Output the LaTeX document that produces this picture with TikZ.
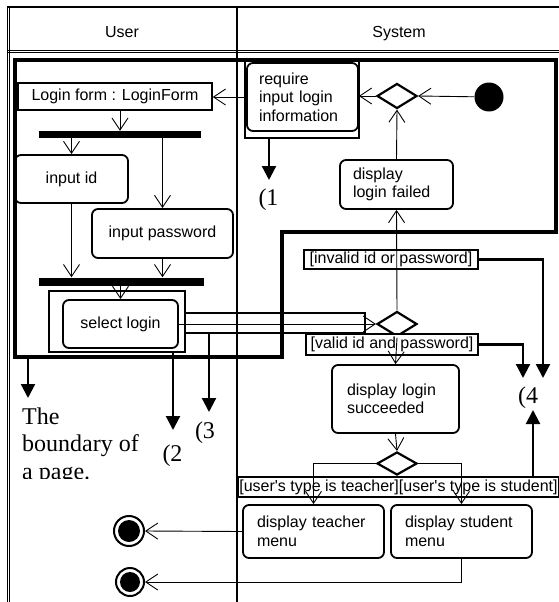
\documentclass[tikz,border=0pt]{standalone}
\usepackage{fontspec}
\setmainfont{Liberation Sans}
\newfontfamily\seriffont{Liberation Serif}
\usetikzlibrary{arrows.meta,shapes.geometric}
\newcommand\ntext{\fontsize{16}{18.5}\selectfont}
\newcommand\bigserif{\seriffont\fontsize{24}{27.5}\selectfont}
\begin{document}
\begin{tikzpicture}[x=1pt,y=-1pt,
  act/.style={draw, rounded corners=6pt, line width=1.8pt, fill=white, font=\ntext, inner ysep=2pt},
  plainbox/.style={draw, line width=1.5pt, fill=white, font=\ntext, inner sep=1pt},
  bar/.style={fill=black, inner sep=0pt},
  sel/.style={draw, line width=1.8pt, inner sep=0pt},
  guard/.style={draw, line width=1.8pt, fill=white, inner xsep=1pt, inner ysep=0pt, font=\ntext},
  decision/.style={diamond, draw, line width=2.2pt, minimum width=40pt, minimum height=25pt, inner sep=0pt, fill=white},
  initst/.style={circle, fill=black, minimum size=29pt, inner sep=0pt},
  finalout/.style={circle, draw, line width=2pt, fill=white, inner sep=0pt},
  finalin/.style={circle, fill=black, inner sep=0pt},
  arr/.style={line width=0.9pt, -{Straight Barb[length=12pt,width=16pt]}},
  bigarr/.style={line width=2.2pt, -{Triangle[length=14pt,width=14pt]}},
  note/.style={font=\bigserif, inner sep=0pt}]
\useasboundingbox (0,0) rectangle (559,602);
\fill[white] (0,0) rectangle (559,602);
% swimlanes
\draw[line width=1.2pt] (7,7) -- (559,7);
\draw[line width=1pt] (7,7) -- (7,602);
\draw[line width=0.8pt] (9.8,7) -- (9.8,602);
\draw[line width=0.8pt] (7,50.5) -- (559,50.5);
\draw[line width=1pt] (7,53) -- (559,53);
\draw[line width=2pt] (237,7) -- (237,602);
\node[font=\ntext, anchor=base] (tuser) at (122,37.5) {User};
\node[font=\ntext, anchor=base] (tsys) at (399,37.5) {System};
% nodes
\node[plainbox, minimum width=194pt, minimum height=27pt] (loginform) at (115,96.5) {Login form : LoginForm};
\node[bar, minimum width=162pt, minimum height=7pt] (bar1) at (120,134.5) {};
\node[act, minimum width=113pt, minimum height=48pt] (inputid) at (71.5,179) {input id};
\node[act, minimum width=141pt, minimum height=49pt] (inputpw) at (162.5,233.5) {input password};
\node[bar, minimum width=165pt, minimum height=8pt] (bar2) at (121.5,281.5) {};
\node[sel, minimum width=136pt, minimum height=61pt] (selsel) at (117,321.5) {};
\node[act, minimum width=115pt, minimum height=48pt] (sellogin) at (120.5,324) {select login};
\node[sel, minimum width=180pt, minimum height=20pt] (trsel) at (275,323) {};
\node[sel, minimum width=114pt, minimum height=78pt] (reqsel) at (302,99) {};
\node[act, align=left, text width=87pt, inner xsep=12pt, minimum height=68pt] (req) at (302.5,97) {require\\input login\\information};
\node[decision] (dec1) at (397,96) {};
\node[initst] (init) at (489,97) {};
\node[act, align=left, text width=87pt, inner xsep=13pt, minimum height=49pt] (failed) at (396.5,184.5) {display\\login failed};
\node[guard, minimum width=174pt, minimum height=19pt] (guard1) at (391,259.5) {[invalid id or password]};
\node[decision] (dec2) at (397,324) {};
\node[guard, minimum width=172pt, minimum height=21pt] (guard2) at (392,344.5) {[valid id and password]};
\node[act, align=left, text width=97pt, inner xsep=15pt, minimum height=68pt] (succ) at (395.5,399) {display login\\succeeded};
\node[decision, minimum height=23pt] (dec3) at (397,463.5) {};
\node[guard, minimum width=317pt, minimum height=20pt] (guard3) at (398.5,487) {[user\textquotesingle s type is teacher][user\textquotesingle s type is student]};
\node[act, align=left, text width=113pt, inner xsep=14pt, minimum height=53pt] (teacher) at (313.5,531.5) {display teacher\\menu};
\node[act, align=left, text width=113pt, inner xsep=14pt, minimum height=53pt] (student) at (461.5,531.5) {display student\\menu};
\node[finalout, minimum size=30pt] (fin1) at (129,531) {};
\node[finalin, minimum size=22pt] (fin1in) at (fin1) {};
\node[finalout, minimum size=28pt] (fin2) at (130,582) {};
\node[finalin, minimum size=20pt] (fin2in) at (fin2) {};
% page boundary
\draw[line width=4pt, line join=miter] (15,60) -- (555.5,60) -- (555.5,232) -- (282,232) -- (282,357) -- (15,357) -- cycle;
% connectors
\draw[arr] (init) -- (dec1.east);
\draw[arr] (dec1.west) -- (dec1.west -| req.east);
\draw[arr] (req.west) -- (req.west -| loginform.east);
\draw[arr] (loginform.south -| bar1.north) -- (bar1.north);
\draw[arr] (inputid.north |- bar1.south) -- (inputid.north);
\draw[arr] (inputpw.north |- bar1.south) -- (inputpw.north);
\draw[arr] (inputid.south) -- (inputid.south |- bar2.north);
\draw[arr] (inputpw.south) -- (inputpw.south |- bar2.north);
\draw[arr] (sellogin.north |- bar2.south) -- (sellogin.north);
\draw[arr] (sellogin.east) -- (dec2.west);
\draw[arr] (dec2.north) -- (failed.south);
\draw[arr] (failed.north) -- (dec1.south);
\draw[arr] (dec2.south) -- (succ.north);
\draw[arr] (succ.south) -- (dec3.north);
\draw[arr] (dec3.west) -| (teacher.north);
\draw[arr] (dec3.east) -| (student.north);
\draw[arr] (teacher.west) -- (fin1.east);
\draw[arr] (student.south) |- (fin2.east);
% off-page arrows
\coordinate (bb) at (28,357);
\coordinate (tb) at (28,398);
\coordinate (t1) at (269,180);
\coordinate (t2) at (173,430);
\coordinate (t3) at (209,412);
\coordinate (t4a) at (543,378);
\coordinate (t4b) at (523,378);
\coordinate (u4) at (533,410);
\draw[bigarr] (bb) -- (tb);
\draw[bigarr] (reqsel.south -| t1) -- (t1);
\draw[bigarr] (selsel.south -| t2) -- (t2);
\draw[bigarr] (trsel.south -| t3) -- (t3);
\draw[bigarr] (guard1.east) -| (t4a);
\draw[bigarr] (guard2.east) -| (t4b);
\draw[bigarr] (guard3.north -| u4) -- (u4);
\node[note] (l1) at (268.5,200) {(1};
\node[note] (l2) at (172.5,456) {(2};
\node[note] (l3) at (205,433) {(3};
\node[note] (l4) at (528,398) {(4};
\begin{scope}
\clip (0,0) rectangle (236,478.5);
\node[note, anchor=north west, align=left] (bnote) at (22,407.6) {The\\boundary of\\a page.};
\end{scope}
\end{tikzpicture}
\end{document}
